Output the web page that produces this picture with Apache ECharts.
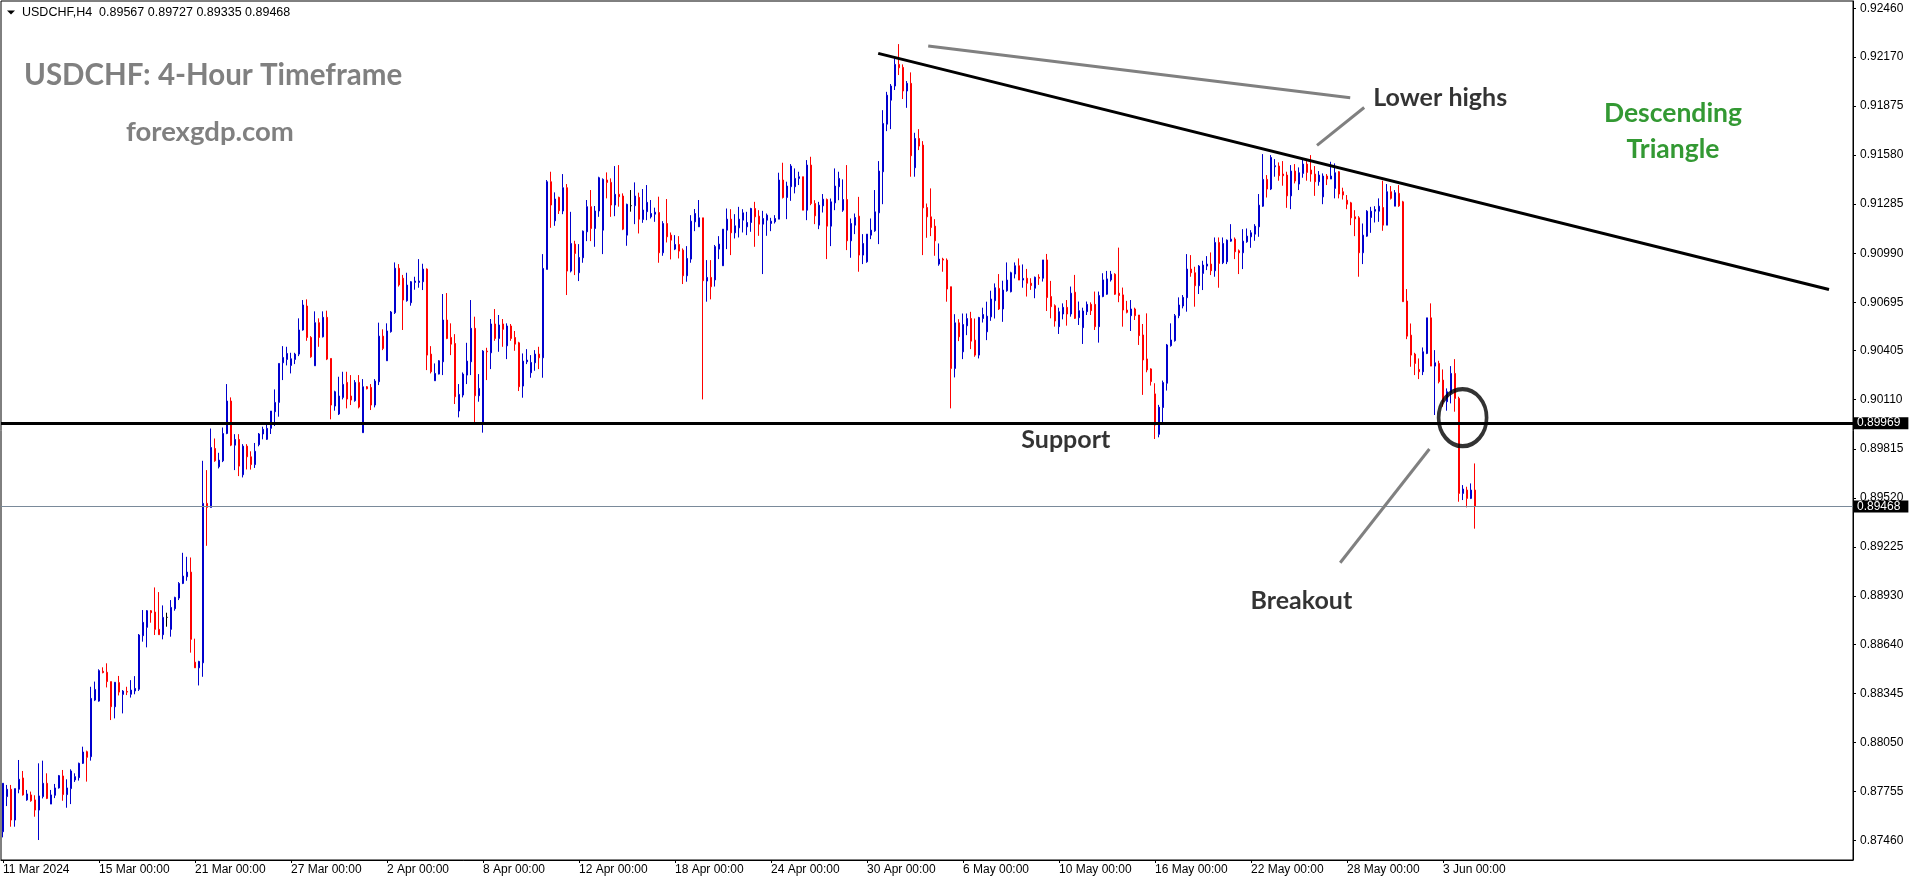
<!DOCTYPE html>
<html>
<head>
<meta charset="utf-8">
<title>USDCHF H4</title>
<script src="https://cdn.jsdelivr.net/npm/echarts@6/dist/echarts.min.js"></script>
<style>
html,body{margin:0;padding:0;background:#fff;}
#chart{width:1916px;height:884px;}
</style>
</head>
<body>
<div id="chart"></div>
<script>
// ---- data ----
// each bar: [open, close, low, high]
const ohlc = [
[0.87514,0.87805,0.87480,0.87805],[0.87725,0.87769,0.87668,0.87795],[0.87769,0.87584,0.87544,0.87795],[0.87584,0.87773,0.87544,0.87773],
[0.87769,0.87829,0.87745,0.87945],[0.87837,0.87735,0.87731,0.87879],[0.87705,0.87741,0.87700,0.87765],[0.87735,0.87700,0.87694,0.87755],
[0.87705,0.87644,0.87604,0.87733],[0.87644,0.87729,0.87464,0.87925],[0.87725,0.87805,0.87714,0.87941],[0.87805,0.87714,0.87710,0.87865],
[0.87680,0.87735,0.87680,0.87765],[0.87733,0.87777,0.87716,0.87801],[0.87777,0.87851,0.87773,0.87855],[0.87849,0.87737,0.87700,0.87885],
[0.87737,0.87777,0.87658,0.87829],[0.87773,0.87879,0.87680,0.87889],[0.87825,0.87845,0.87813,0.87865],[0.87839,0.87925,0.87821,0.87929],
[0.87925,0.87993,0.87921,0.88025],[0.87995,0.87961,0.87815,0.88001],[0.87965,0.88315,0.87941,0.88385],[0.88305,0.88369,0.88299,0.88416],
[0.88299,0.88482,0.88295,0.88490],[0.88478,0.88470,0.88466,0.88502],[0.88472,0.88416,0.88381,0.88526],[0.88416,0.88265,0.88185,0.88416],
[0.88265,0.88412,0.88195,0.88412],[0.88410,0.88353,0.88333,0.88450],[0.88339,0.88359,0.88225,0.88365],[0.88357,0.88353,0.88335,0.88385],
[0.88340,0.88365,0.88320,0.88425],[0.88360,0.88375,0.88340,0.88449],[0.88370,0.88696,0.88360,0.88702],[0.88692,0.88772,0.88656,0.88846],
[0.88742,0.88842,0.88622,0.88846],[0.88842,0.88830,0.88770,0.88846],[0.88834,0.88730,0.88696,0.88982],[0.88730,0.88698,0.88698,0.88954],
[0.88698,0.88802,0.88670,0.88874],[0.88802,0.88802,0.88746,0.88830],[0.88730,0.88862,0.88686,0.88906],[0.88854,0.88922,0.88842,0.88926],
[0.88918,0.89006,0.88906,0.89014],[0.89006,0.89050,0.89002,0.89190],[0.89046,0.89074,0.89022,0.89166],[0.89074,0.88670,0.88590,0.89162],
[0.88533,0.88499,0.88499,0.88674],[0.88499,0.88537,0.88393,0.88541],[0.88529,0.89487,0.88445,0.89743],[0.89487,0.89463,0.89232,0.89687],
[0.89463,0.89823,0.89463,0.89937],[0.89817,0.89743,0.89737,0.89877],[0.89707,0.89747,0.89697,0.89791],[0.89743,0.89907,0.89735,0.89943],
[0.89907,0.90102,0.89903,0.90204],[0.90102,0.89837,0.89831,0.90124],[0.89837,0.89871,0.89687,0.89903],[0.89871,0.89711,0.89651,0.89903],
[0.89659,0.89831,0.89643,0.89843],[0.89831,0.89767,0.89691,0.89843],[0.89767,0.89720,0.89690,0.89800],[0.89720,0.89800,0.89700,0.89850],
[0.89840,0.89904,0.89830,0.89910],[0.89904,0.89932,0.89872,0.89948],[0.89872,0.89938,0.89868,0.89972],[0.89938,0.90042,0.89904,0.90042],
[0.90038,0.90094,0.89952,0.90172],[0.90094,0.90328,0.90008,0.90328],[0.90332,0.90364,0.90228,0.90432],[0.90352,0.90388,0.90316,0.90428],
[0.90316,0.90356,0.90268,0.90392],[0.90352,0.90384,0.90324,0.90392],[0.90384,0.90529,0.90372,0.90599],[0.90529,0.90679,0.90525,0.90709],
[0.90673,0.90484,0.90464,0.90713],[0.90484,0.90368,0.90362,0.90492],[0.90314,0.90573,0.90314,0.90641],[0.90573,0.90484,0.90428,0.90599],
[0.90488,0.90605,0.90484,0.90641],[0.90605,0.90354,0.90348,0.90645],[0.90358,0.90078,0.89992,0.90358],[0.90072,0.90158,0.90044,0.90164],
[0.90024,0.90132,0.90018,0.90248],[0.90124,0.90202,0.90112,0.90278],[0.90214,0.90114,0.90058,0.90278],[0.90132,0.90108,0.90078,0.90258],
[0.90104,0.90214,0.90098,0.90228],[0.90214,0.90066,0.90058,0.90258],[0.89912,0.90188,0.89912,0.90234],[0.90188,0.90176,0.90172,0.90192],
[0.90184,0.90078,0.90048,0.90204],[0.90078,0.90222,0.90064,0.90234],[0.90218,0.90492,0.90198,0.90573],[0.90492,0.90418,0.90408,0.90533],
[0.90344,0.90523,0.90344,0.90569],[0.90519,0.90637,0.90513,0.90643],[0.90633,0.90900,0.90625,0.90935],[0.90900,0.90800,0.90790,0.90925],
[0.90840,0.90709,0.90529,0.90860],[0.90705,0.90799,0.90699,0.90873],[0.90693,0.90819,0.90675,0.90823],[0.90815,0.90823,0.90771,0.90849],
[0.90815,0.90823,0.90783,0.90955],[0.90819,0.90895,0.90769,0.90927],[0.90895,0.90378,0.90288,0.90899],[0.90384,0.90278,0.90268,0.90432],
[0.90224,0.90268,0.90224,0.90328],[0.90264,0.90344,0.90262,0.90348],[0.90338,0.90589,0.90258,0.90745],[0.90589,0.90478,0.90474,0.90751],
[0.90484,0.90444,0.90378,0.90569],[0.90448,0.90128,0.90084,0.90504],[0.90042,0.90142,0.90004,0.90204],[0.90138,0.90264,0.90124,0.90274],
[0.90258,0.90342,0.90204,0.90452],[0.90338,0.90539,0.90258,0.90709],[0.90539,0.90134,0.89974,0.90609],[0.90134,0.90178,0.90098,0.90264],
[0.89974,0.90402,0.89912,0.90408],[0.90402,0.90398,0.90228,0.90422],[0.90392,0.90565,0.90294,0.90595],[0.90565,0.90478,0.90464,0.90655],
[0.90478,0.90559,0.90398,0.90619],[0.90565,0.90533,0.90428,0.90595],[0.90434,0.90553,0.90354,0.90569],[0.90553,0.90478,0.90464,0.90565],
[0.90484,0.90444,0.90404,0.90523],[0.90452,0.90188,0.90162,0.90458],[0.90192,0.90342,0.90122,0.90388],[0.90338,0.90348,0.90324,0.90414],
[0.90272,0.90334,0.90242,0.90378],[0.90332,0.90384,0.90284,0.90408],[0.90384,0.90362,0.90294,0.90428],[0.90362,0.90899,0.90242,0.90985],
[0.90893,0.91420,0.90893,0.91430],[0.91420,0.91280,0.91143,0.91480],[0.91185,0.91316,0.91155,0.91356],[0.91326,0.91246,0.91226,0.91330],
[0.91244,0.91384,0.91225,0.91466],[0.91384,0.90883,0.90739,0.91406],[0.90883,0.91049,0.90875,0.91239],[0.91045,0.90989,0.90859,0.91065],
[0.90873,0.90965,0.90823,0.91045],[0.90963,0.91123,0.90933,0.91127],[0.91119,0.91270,0.91063,0.91310],[0.91270,0.91139,0.91063,0.91370],
[0.91139,0.91244,0.91029,0.91274],[0.91244,0.91444,0.91209,0.91450],[0.91129,0.91434,0.90985,0.91440],[0.91430,0.91416,0.91320,0.91476],
[0.91416,0.91280,0.91209,0.91440],[0.91280,0.91344,0.91213,0.91514],[0.91344,0.91330,0.91270,0.91520],[0.91334,0.91135,0.91129,0.91350],
[0.91099,0.91284,0.91035,0.91288],[0.91276,0.91276,0.91240,0.91370],[0.91276,0.91334,0.91165,0.91416],[0.91326,0.91195,0.91109,0.91354],
[0.91193,0.91250,0.91173,0.91376],[0.91240,0.91296,0.91189,0.91400],[0.91209,0.91229,0.91199,0.91310],[0.91225,0.91237,0.91179,0.91264],
[0.91235,0.90993,0.90933,0.91330],[0.90993,0.91169,0.90975,0.91183],[0.91169,0.91089,0.91055,0.91316],[0.91099,0.91069,0.90953,0.91115],
[0.91015,0.91043,0.91009,0.91099],[0.91043,0.91003,0.90959,0.91093],[0.91009,0.90855,0.90805,0.91019],[0.90855,0.90959,0.90819,0.91033],
[0.90955,0.91183,0.90933,0.91219],[0.91179,0.91229,0.91123,0.91256],[0.91149,0.91203,0.91149,0.91310],[0.91203,0.90825,0.90112,0.91203],
[0.90823,0.90845,0.90699,0.90949],[0.90845,0.90789,0.90713,0.90949],[0.90830,0.91030,0.90790,0.91040],[0.91015,0.91045,0.90955,0.91093],
[0.90915,0.91135,0.90915,0.91135],[0.91129,0.91195,0.91015,0.91259],[0.91195,0.91113,0.90979,0.91255],[0.91113,0.91155,0.91079,0.91225],
[0.91143,0.91195,0.91085,0.91269],[0.91189,0.91233,0.91115,0.91255],[0.91149,0.91175,0.91099,0.91239],[0.91175,0.91259,0.91119,0.91263],
[0.91259,0.91209,0.91029,0.91299],[0.91213,0.91165,0.91095,0.91249],[0.91165,0.91199,0.90865,0.91245],[0.91189,0.91219,0.91095,0.91229],
[0.91169,0.91183,0.91123,0.91203],[0.91179,0.91199,0.91169,0.91219],[0.91195,0.91430,0.91195,0.91474],[0.91430,0.91325,0.91319,0.91534],
[0.91325,0.91394,0.91195,0.91420],[0.91390,0.91514,0.91305,0.91526],[0.91390,0.91440,0.91350,0.91500],[0.91440,0.91450,0.91400,0.91480],
[0.91450,0.91249,0.91249,0.91450],[0.91249,0.91520,0.91189,0.91550],[0.91520,0.91289,0.91279,0.91570],[0.91289,0.91215,0.91165,0.91309],
[0.91159,0.91279,0.91135,0.91299],[0.91275,0.91315,0.91235,0.91346],[0.91313,0.91153,0.90955,0.91319],[0.91153,0.91299,0.91033,0.91319],
[0.91293,0.91394,0.91249,0.91500],[0.91390,0.91440,0.91309,0.91480],[0.91249,0.91313,0.91239,0.91434],[0.91313,0.91065,0.91009,0.91520],
[0.91065,0.91169,0.90963,0.91199],[0.91159,0.91205,0.91105,0.91229],[0.91213,0.90979,0.90879,0.91329],[0.90979,0.91049,0.90925,0.91105],
[0.90939,0.91105,0.90933,0.91105],[0.91099,0.91129,0.91075,0.91199],[0.91125,0.91239,0.91119,0.91370],[0.91233,0.91484,0.91045,0.91544],
[0.91480,0.91770,0.91285,0.91850],[0.91766,0.91940,0.91724,0.91960],[0.91910,0.91995,0.91736,0.92007],[0.91995,0.92125,0.91971,0.92161],
[0.92125,0.92105,0.92061,0.92247],[0.92107,0.91965,0.91917,0.92125],[0.91965,0.92011,0.91864,0.92025],[0.92011,0.91576,0.91450,0.92077],
[0.91504,0.91680,0.91450,0.91714],[0.91680,0.91634,0.91610,0.91736],[0.91640,0.91263,0.90979,0.91664],[0.91265,0.91209,0.91083,0.91289],
[0.91209,0.91145,0.91093,0.91380],[0.91153,0.91065,0.90975,0.91195],[0.90925,0.90955,0.90915,0.91049],[0.90955,0.90949,0.90879,0.90963],
[0.90949,0.90775,0.90699,0.90959],[0.90789,0.90298,0.90058,0.90789],[0.90298,0.90572,0.90244,0.90624],[0.90572,0.90488,0.90462,0.90594],
[0.90398,0.90562,0.90354,0.90628],[0.90554,0.90598,0.90498,0.90628],[0.90598,0.90462,0.90414,0.90638],[0.90468,0.90378,0.90368,0.90598],
[0.90378,0.90604,0.90358,0.90608],[0.90598,0.90622,0.90574,0.90663],[0.90518,0.90612,0.90468,0.90699],[0.90608,0.90715,0.90584,0.90765],
[0.90705,0.90783,0.90598,0.90809],[0.90779,0.90655,0.90649,0.90865],[0.90655,0.90769,0.90578,0.90825],[0.90765,0.90829,0.90759,0.90935],
[0.90759,0.90873,0.90755,0.90879],[0.90865,0.90915,0.90839,0.90935],[0.90915,0.90829,0.90829,0.90959],[0.90829,0.90839,0.90783,0.90923],
[0.90840,0.90810,0.90730,0.90896],[0.90810,0.90796,0.90770,0.90840],[0.90780,0.90846,0.90720,0.90850],[0.90846,0.90840,0.90800,0.90864],
[0.90840,0.90950,0.90820,0.90950],[0.90950,0.90724,0.90643,0.90986],[0.90730,0.90669,0.90599,0.90824],[0.90675,0.90583,0.90549,0.90683],
[0.90549,0.90639,0.90505,0.90663],[0.90625,0.90665,0.90593,0.90689],[0.90665,0.90625,0.90555,0.90709],[0.90625,0.90750,0.90609,0.90790],
[0.90756,0.90599,0.90595,0.90860],[0.90603,0.90645,0.90559,0.90700],[0.90543,0.90643,0.90445,0.90663],[0.90639,0.90683,0.90619,0.90700],
[0.90683,0.90645,0.90619,0.90695],[0.90683,0.90549,0.90529,0.90760],[0.90549,0.90736,0.90453,0.90760],[0.90730,0.90830,0.90726,0.90870],
[0.90744,0.90836,0.90740,0.90884],[0.90830,0.90864,0.90820,0.90884],[0.90864,0.90744,0.90740,0.90870],[0.90750,0.90736,0.90696,0.91024],
[0.90740,0.90649,0.90549,0.90784],[0.90649,0.90635,0.90629,0.90704],[0.90615,0.90655,0.90523,0.90709],[0.90655,0.90615,0.90589,0.90663],
[0.90619,0.90495,0.90439,0.90619],[0.90499,0.90349,0.90139,0.90565],[0.90355,0.90289,0.90275,0.90629],[0.90295,0.90219,0.90195,0.90299],
[0.90145,0.89958,0.89874,0.90209],[0.89902,0.90065,0.89884,0.90079],[0.90063,0.90213,0.89958,0.90225],[0.90209,0.90439,0.90165,0.90445],
[0.90435,0.90469,0.90429,0.90569],[0.90465,0.90615,0.90459,0.90625],[0.90615,0.90679,0.90600,0.90725],[0.90673,0.90725,0.90659,0.90739],
[0.90723,0.90895,0.90639,0.90985],[0.90895,0.90873,0.90849,0.90979],[0.90873,0.90795,0.90669,0.90909],[0.90795,0.90913,0.90745,0.90919],
[0.90869,0.90919,0.90769,0.90945],[0.90913,0.90925,0.90889,0.90973],[0.90925,0.90885,0.90859,0.90995],[0.90885,0.91055,0.90849,0.91085],
[0.91055,0.90929,0.90783,0.91085],[0.90933,0.91049,0.90925,0.91085],[0.90939,0.91069,0.90925,0.91073],[0.91063,0.91075,0.91059,0.91165],
[0.91075,0.90999,0.90955,0.91085],[0.91005,0.90993,0.90865,0.91013],[0.90993,0.91063,0.90895,0.91135],[0.91059,0.91093,0.91053,0.91139],
[0.91089,0.91113,0.91023,0.91129],[0.91105,0.91153,0.91065,0.91165],[0.91149,0.91279,0.91089,0.91346],[0.91273,0.91434,0.91269,0.91586],
[0.91434,0.91376,0.91325,0.91460],[0.91376,0.91566,0.91370,0.91580],[0.91510,0.91516,0.91450,0.91556],[0.91514,0.91456,0.91426,0.91536],
[0.91466,0.91456,0.91396,0.91544],[0.91460,0.91335,0.91263,0.91480],[0.91335,0.91484,0.91255,0.91520],[0.91484,0.91424,0.91410,0.91526],
[0.91406,0.91474,0.91370,0.91506],[0.91470,0.91526,0.91444,0.91554],[0.91526,0.91476,0.91426,0.91544],[0.91490,0.91466,0.91420,0.91580],
[0.91466,0.91420,0.91335,0.91514],[0.91420,0.91460,0.91396,0.91484],[0.91329,0.91454,0.91285,0.91470],[0.91454,0.91436,0.91400,0.91466],
[0.91436,0.91454,0.91436,0.91540],[0.91380,0.91474,0.91320,0.91530],[0.91480,0.91346,0.91320,0.91484],[0.91360,0.91340,0.91313,0.91384],
[0.91309,0.91285,0.91255,0.91340],[0.91293,0.91203,0.91159,0.91299],[0.91209,0.91197,0.91093,0.91249],[0.91203,0.90993,0.90849,0.91213],
[0.90993,0.91099,0.90925,0.91169],[0.91093,0.91243,0.91089,0.91249],[0.91205,0.91243,0.91113,0.91269],[0.91243,0.91253,0.91175,0.91273],
[0.91243,0.91273,0.91179,0.91320],[0.91265,0.91159,0.91125,0.91426],[0.91159,0.91360,0.91159,0.91406],[0.91360,0.91320,0.91313,0.91394],
[0.91273,0.91354,0.91273,0.91370],[0.91350,0.91275,0.91269,0.91400],[0.91299,0.90699,0.90699,0.91305],[0.90703,0.90492,0.90474,0.90775],
[0.90498,0.90378,0.90308,0.90568],[0.90384,0.90328,0.90258,0.90392],[0.90292,0.90278,0.90234,0.90358],[0.90278,0.90398,0.90258,0.90424],
[0.90388,0.90602,0.90384,0.90602],[0.90602,0.90312,0.90312,0.90689],[0.90312,0.90332,0.90018,0.90408],[0.90328,0.90218,0.90208,0.90344],
[0.90228,0.90098,0.90068,0.90292],[0.90098,0.90158,0.90044,0.90178],[0.90152,0.90268,0.90088,0.90312],[0.90268,0.90118,0.90038,0.90354],
[0.90118,0.89547,0.89497,0.90128],[0.89547,0.89573,0.89507,0.89597],[0.89567,0.89517,0.89463,0.89587],[0.89517,0.89567,0.89513,0.89607],
[0.89567,0.89468,0.89335,0.89727]
];

// x-axis date labels, one every 24 H4 bars (4 trading days)
const xTickLabels = ['11 Mar 2024','15 Mar 00:00','21 Mar 00:00','27 Mar 00:00','2 Apr 00:00','8 Apr 00:00',
  '12 Apr 00:00','18 Apr 00:00','24 Apr 00:00','30 Apr 00:00','6 May 00:00','10 May 00:00',
  '16 May 00:00','22 May 00:00','28 May 00:00','3 Jun 00:00'];
const barsPerTick = 24;
const totalSlots = 463; // bars + empty right margin (chart shift)

// price-axis tick labels
const yTickLabels = [0.92460,0.92170,0.91875,0.91580,0.91285,0.90990,0.90695,0.90405,0.90110,
  0.89815,0.89520,0.89225,0.88930,0.88640,0.88345,0.88050,0.87755,0.87460];
const yMin = 0.87344, yMax = 0.92506;

// horizontal levels
const supportLevel = 0.89969;
const lastPrice = 0.89468;
const headerValues = ['0.89567','0.89727','0.89335','0.89468'];

// drawn objects, in [bar index, price]
const trendLine = [[218.8, 0.92191], [456.5, 0.90772]];
const lowerHighsGuide = [[231.3, 0.92235], [336.8, 0.91924]];
const lowerHighsPointer = [[328.5, 0.91638], [340.3, 0.91866]];
const breakoutPointer = [[334.3, 0.89130], [356.6, 0.89814]];
const breakoutCircle = [[364.9, 0.90002]];
const blackNotes = [[359.3, 0.91924, 'Lower highs'], [265.7, 0.89868, 'Support'], [324.6, 0.88900, 'Breakout']];
const greenNotes = [[417.5, 0.91723, 'Descending\nTriangle']];

// ---- chart ----
const slots = Array.from({length: totalSlots}, (_, i) => String(i));
const showTick = (i) => i % barsPerTick === 0 && i / barsPerTick < xTickLabels.length;
const AX_FONT = 'Liberation Sans';
const NOTE_FONT = 'Lato';

const chart = echarts.init(document.getElementById('chart'), null, {renderer: 'canvas'});

function seg(pts, color, width) {
  return {
    type: 'line', xAxisIndex: 1, yAxisIndex: 0, data: pts, symbol: 'none', silent: true,
    lineStyle: {color: color, width: width, cap: 'butt'}, z: 6, emphasis: {disabled: true}
  };
}
function boxLabel(txt) {
  return {
    show: true, position: 'end', formatter: txt, color: '#fff', backgroundColor: '#000',
    fontFamily: AX_FONT, fontSize: 12, lineHeight: 12, padding: [0, 8, 0, 3], distance: 1
  };
}

const option = {
  animation: false,
  backgroundColor: '#ffffff',
  grid: {left: 1, top: 1, width: 1852, height: 859, show: true, borderColor: '#000', borderWidth: 1, backgroundColor: '#fff'},
  xAxis: [
    {
      type: 'category', data: slots, boundaryGap: true,
      axisLine: {show: true, lineStyle: {color: '#000', width: 1}},
      axisTick: {show: true, alignWithLabel: true, interval: showTick, length: 3, lineStyle: {color: '#000'}},
      axisLabel: {
        show: true, interval: showTick, align: 'left', margin: 4, color: '#000',
        fontFamily: AX_FONT, fontSize: 12,
        formatter: (v, i) => xTickLabels[Math.round(Number(v) / barsPerTick)] || ''
      },
      splitLine: {show: false}
    },
    {type: 'value', min: -0.5, max: totalSlots - 0.5, show: false}
  ],
  yAxis: [{
    type: 'value', position: 'right', min: yMin, max: yMax, scale: true,
    splitLine: {show: false},
    axisLine: {show: true, onZero: false, lineStyle: {color: '#000', width: 1}},
    axisTick: {show: true, inside: false, length: 3, customValues: yTickLabels, lineStyle: {color: '#000'}},
    axisLabel: {
      show: true, customValues: yTickLabels, margin: 7, color: '#000',
      fontFamily: AX_FONT, fontSize: 12, formatter: (v) => Number(v).toFixed(5)
    }
  }],
  graphic: [
    {type: 'polygon', shape: {points: [[7, 10.5], [15, 10.5], [11, 14.5]]}, style: {fill: '#000'}, z: 100},
    {type: 'text', x: 22, y: 13, style: {text: 'USDCHF,H4  ' + headerValues.join(' '), fill: '#000', font: '12.5px "Liberation Sans"', verticalAlign: 'middle'}, z: 100},
    {type: 'text', x: 24, y: 75, style: {text: 'USDCHF: 4-Hour Timeframe', fill: '#808080', font: 'bold 29.5px "Lato"', verticalAlign: 'middle'}, z: 100},
    {type: 'text', x: 126, y: 132, style: {text: 'forexgdp.com', fill: '#808080', font: 'bold 27.5px "Lato"', verticalAlign: 'middle'}, z: 100}
  ],
  series: [
    {
      type: 'candlestick', name: 'USDCHF,H4', xAxisIndex: 0, yAxisIndex: 0,
      data: ohlc, barWidth: 2, silent: true,
      itemStyle: {
        color: '#0000CD', color0: '#FF0000', borderColor: '#0000CD', borderColor0: '#FF0000',
        borderColorDoji: '#000000', borderWidth: 1
      },
      emphasis: {disabled: true},
      markLine: {
        silent: true, symbol: ['none', 'none'], animation: false, precision: 5, z: 4,
        data: [
          {yAxis: lastPrice, lineStyle: {color: '#7a8a9a', width: 1, type: 'solid'}, label: boxLabel(lastPrice.toFixed(5))},
          {yAxis: supportLevel, lineStyle: {color: '#000', width: 3, type: 'solid'}, label: boxLabel(supportLevel.toFixed(5))}
        ]
      }
    },
    seg(trendLine, '#000', 3),
    seg(lowerHighsGuide, '#808080', 3),
    seg(lowerHighsPointer, '#808080', 3),
    seg(breakoutPointer, '#808080', 3),
    {
      type: 'scatter', xAxisIndex: 1, yAxisIndex: 0, data: breakoutCircle, silent: true,
      symbol: 'circle', symbolSize: [48, 57], z: 7,
      itemStyle: {color: 'rgba(0,0,0,0)', borderColor: '#000', borderWidth: 4},
      emphasis: {disabled: true}
    },
    {
      type: 'scatter', xAxisIndex: 1, yAxisIndex: 0, data: blackNotes, silent: true,
      symbolSize: 1, itemStyle: {color: 'rgba(0,0,0,0)'}, z: 8,
      label: {show: true, position: 'inside', formatter: (p) => p.data[2], color: '#000',
        fontFamily: NOTE_FONT, fontWeight: 'bold', fontSize: 25},
      emphasis: {disabled: true}
    },
    {
      type: 'scatter', xAxisIndex: 1, yAxisIndex: 0, data: greenNotes, silent: true,
      symbolSize: 1, itemStyle: {color: 'rgba(0,0,0,0)'}, z: 8,
      label: {show: true, position: 'inside', formatter: (p) => p.data[2], color: '#008000', align: 'center',
        fontFamily: NOTE_FONT, fontWeight: 'bold', fontSize: 26.5, lineHeight: 36},
      emphasis: {disabled: true}
    }
  ]
};
chart.setOption(option);
</script>
</body>
</html>
